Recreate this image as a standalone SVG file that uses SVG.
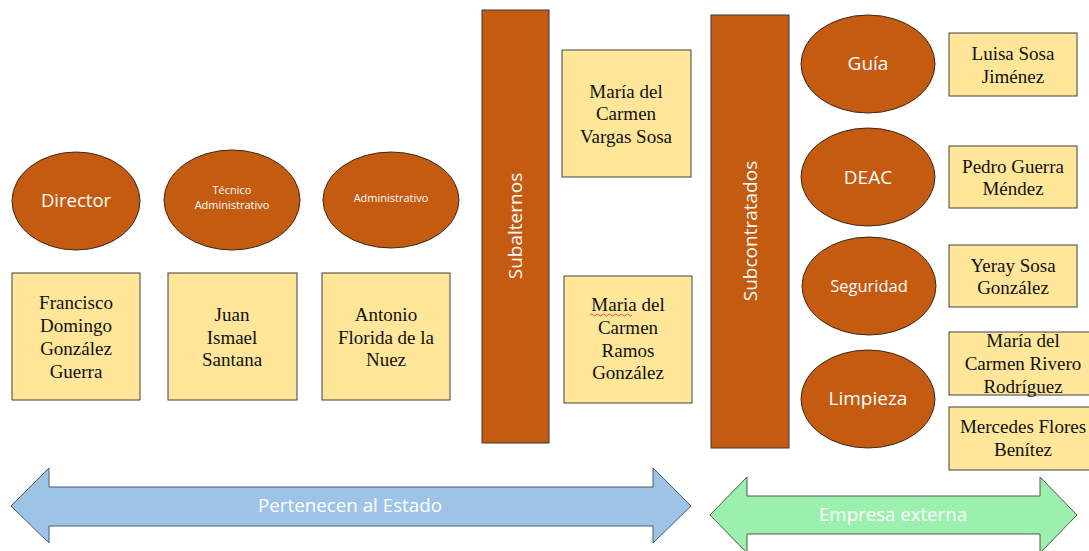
<svg xmlns="http://www.w3.org/2000/svg" width="1089" height="551" viewBox="0 0 1089 551">
<style>
.ov{fill:#C55A11;stroke:#3a2a1a;stroke-width:1}
.bar{fill:#C55A11;stroke:#3a3a3a;stroke-width:1}
.bx{fill:#FFE699;stroke:#404040;stroke-width:1}
.lt{font-family:"Open Sans","Liberation Sans",sans-serif;fill:#ffffff;text-anchor:middle}
.nm{font-family:"Liberation Serif","Times New Roman",serif;font-size:19px;fill:#111111;text-anchor:middle}
</style>
<rect width="1089" height="551" fill="#ffffff"/>

<g id="director">
<ellipse class="ov" cx="76" cy="201" rx="64" ry="49"/>
<text class="lt" x="76" y="207" font-size="18.5">Director</text>
</g>
<g id="tecnico">
<ellipse class="ov" cx="232" cy="200" rx="68" ry="50"/>
<text class="lt" x="232" y="194" font-size="11">Técnico</text>
<text class="lt" x="232" y="209" font-size="11">Administrativo</text>
</g>
<g id="administrativo">
<ellipse class="ov" cx="391" cy="200" rx="68" ry="48"/>
<text class="lt" x="391" y="202" font-size="11">Administrativo</text>
</g>

<g id="francisco">
<rect class="bx" x="12" y="273" width="128" height="127"/>
<text class="nm" x="76" y="309">Francisco</text>
<text class="nm" x="76" y="332">Domingo</text>
<text class="nm" x="76" y="355">González</text>
<text class="nm" x="76" y="378">Guerra</text>
</g>
<g id="juan">
<rect class="bx" x="168" y="273" width="129" height="127"/>
<text class="nm" x="232" y="321">Juan</text>
<text class="nm" x="232" y="344">Ismael</text>
<text class="nm" x="232" y="366">Santana</text>
</g>
<g id="antonio">
<rect class="bx" x="322" y="273" width="128" height="127"/>
<text class="nm" x="386" y="321">Antonio</text>
<text class="nm" x="386" y="344">Florida de la</text>
<text class="nm" x="386" y="366">Nuez</text>
</g>

<g id="subalternos">
<rect class="bar" x="482" y="10" width="67" height="433"/>
<text class="lt" font-size="19" transform="translate(522,226) rotate(-90)">Subalternos</text>
</g>
<g id="vargas">
<rect class="bx" x="562" y="50" width="129" height="127"/>
<text class="nm" x="626" y="98">María del</text>
<text class="nm" x="626" y="120">Carmen</text>
<text class="nm" x="626" y="143">Vargas Sosa</text>
</g>
<g id="ramos">
<rect class="bx" x="564" y="276" width="128" height="127"/>
<text class="nm" x="628" y="311">Maria del</text>
<path d="M590,315 q1.5,-2 3,0 t3,0 t3,0 t3,0 t3,0 t3,0 t3,0 t3,0 t3,0 t3,0 t3,0 t3,0 t3,0 t3,0" fill="none" stroke="#e03030" stroke-width="0.8"/>
<text class="nm" x="628" y="334">Carmen</text>
<text class="nm" x="628" y="357">Ramos</text>
<text class="nm" x="628" y="379">González</text>
</g>

<g id="subcontratados">
<rect class="bar" x="711" y="15" width="78" height="433"/>
<text class="lt" font-size="19" transform="translate(757,231) rotate(-90)">Subcontratados</text>
</g>
<g id="guia">
<ellipse class="ov" cx="868" cy="64" rx="67" ry="49"/>
<text class="lt" x="868" y="70" font-size="19">Guía</text>
</g>
<g id="deac">
<ellipse class="ov" cx="868" cy="177" rx="67" ry="49"/>
<text class="lt" x="868" y="184" font-size="19">DEAC</text>
</g>
<g id="seguridad">
<ellipse class="ov" cx="869" cy="286" rx="67" ry="49"/>
<text class="lt" x="869" y="292" font-size="16.5">Seguridad</text>
</g>
<g id="limpieza">
<ellipse class="ov" cx="868" cy="399" rx="67" ry="49"/>
<text class="lt" x="868" y="405" font-size="19">Limpieza</text>
</g>

<g id="luisa">
<rect class="bx" x="949" y="33" width="128" height="63"/>
<text class="nm" x="1013" y="60">Luisa Sosa</text>
<text class="nm" x="1013" y="83">Jiménez</text>
</g>
<g id="pedro">
<rect class="bx" x="949" y="146" width="128" height="62"/>
<text class="nm" x="1013" y="173">Pedro Guerra</text>
<text class="nm" x="1013" y="195">Méndez</text>
</g>
<g id="yeray">
<rect class="bx" x="949" y="245" width="128" height="62"/>
<text class="nm" x="1013" y="272">Yeray Sosa</text>
<text class="nm" x="1013" y="294">González</text>
</g>
<g id="rivero">
<rect class="bx" x="949" y="332" width="145" height="63"/>
<text class="nm" x="1023" y="347">María del</text>
<text class="nm" x="1023" y="370">Carmen Rivero</text>
<text class="nm" x="1023" y="393">Rodríguez</text>
</g>
<g id="mercedes">
<rect class="bx" x="949" y="407" width="145" height="63"/>
<text class="nm" x="1023" y="433">Mercedes Flores</text>
<text class="nm" x="1023" y="456">Benítez</text>
</g>

<g id="connectors">
<g id="estado">
<polygon points="11,506 49,468 49,487 653,487 653,468 691,506 653,543 653,526 49,526 49,543" fill="#9DC3E6" stroke="#4a5a6a" stroke-width="1"/>
<text class="lt" x="350" y="512" font-size="18" textLength="184" lengthAdjust="spacingAndGlyphs">Pertenecen al Estado</text>
</g>
<g id="externa">
<polygon points="710,515 747,477 747,496 1040,496 1040,477 1077,515 1040,553 1040,534 747,534 747,553" fill="#9CF0AE" stroke="#4a5a4a" stroke-width="1"/>
<text class="lt" x="893" y="521" font-size="18" textLength="148" lengthAdjust="spacingAndGlyphs">Empresa externa</text>
</g>
</g>
</svg>
